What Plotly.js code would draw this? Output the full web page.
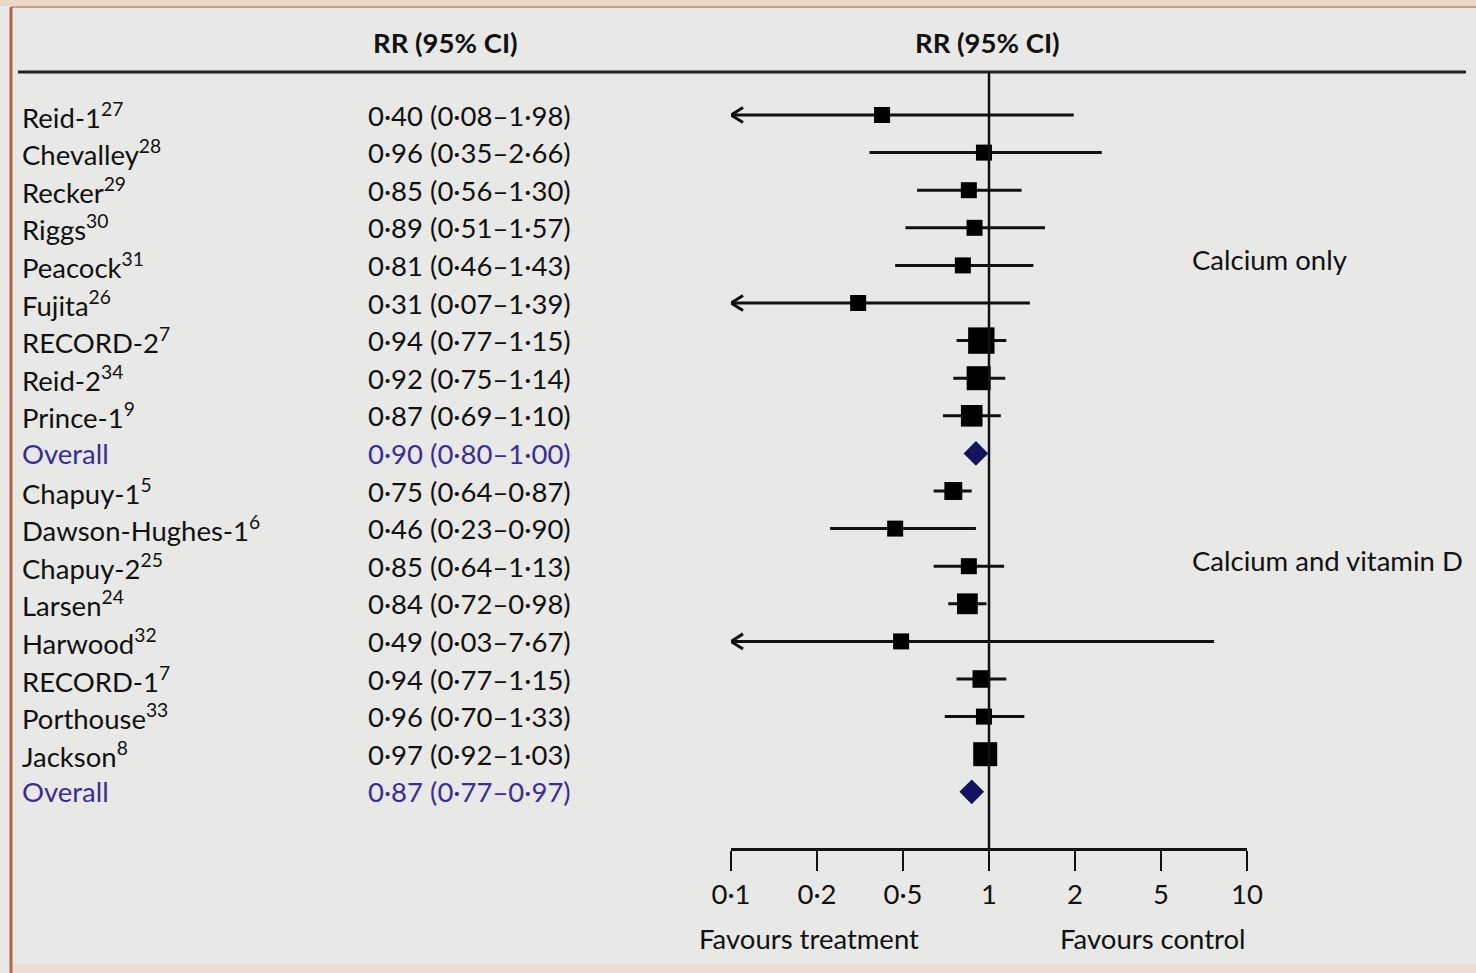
<!DOCTYPE html>
<html>
<head>
<meta charset="utf-8">
<script src="https://cdn.plot.ly/plotly-3.0.1.min.js"></script>
<style>
html,body{margin:0;padding:0;background:#e8e8e6;}
#chart{width:1476px;height:973px;}
</style>
</head>
<body>
<div id="chart"></div>
<script>
// ---- data ----
const studies = ["Reid-1","Chevalley","Recker","Riggs","Peacock","Fujita","RECORD-2","Reid-2","Prince-1","Overall",
                 "Chapuy-1","Dawson-Hughes-1","Chapuy-2","Larsen","Harwood","RECORD-1","Porthouse","Jackson","Overall"];
const refs = ["27","28","29","30","31","26","7","34","9","","5","6","25","24","32","7","33","8",""];
const rr = [0.40,0.96,0.85,0.89,0.81,0.31,0.94,0.92,0.87,0.90,0.75,0.46,0.85,0.84,0.49,0.94,0.96,0.97,0.87];
const lo = [0.08,0.35,0.56,0.51,0.46,0.07,0.77,0.75,0.69,0.80,0.64,0.23,0.64,0.72,0.03,0.77,0.70,0.92,0.77];
const hi = [1.98,2.66,1.30,1.57,1.43,1.39,1.15,1.14,1.10,1.00,0.87,0.90,1.13,0.98,7.67,1.15,1.33,1.03,0.97];
const isOverall = [0,0,0,0,0,0,0,0,0,1,0,0,0,0,0,0,0,0,1];
const weight = [1,1,1,1,1,1,1.65,1.5,1.35,0,1.12,1,1,1.3,1,1.1,1,1.5,0];
const tickValues = [0.1,0.2,0.5,1,2,5,10];
const tickLabels = ["0·1","0·2","0·5","1","2","5","10"];
const groups = ["Calcium only","Calcium and vitamin D"];
const groupRows = [4,12];

// ---- scale: equally spaced ticks, log within each segment ----
function pos(v){
  if (v <= tickValues[0]) return 0;
  for (let i=0;i<tickValues.length-1;i++){
    if (v <= tickValues[i+1]) return i + Math.log(v/tickValues[i])/Math.log(tickValues[i+1]/tickValues[i]);
  }
  return tickValues.length-1;
}
const fmt = v => v.toFixed(2).replace('.', '·');

// pixel geometry of plot area
const L = 731, R = 1247, T = 72, B = 848, W = 1476, H = 973;
const px = x => (x - L) / (R - L);
const py = y => (B - y) / (B - T);

const FONT = "Lato, 'Open Sans', sans-serif";
const FS = 27.5;
const BLACK = "#111111";
const BLUE = "#3a2e96";

const traces = [];
// whiskers
const wx=[], wy=[];
const ax=[], ay=[];
const dx = 0.14, dy = 0.2;
studies.forEach((s,i)=>{
  if (isOverall[i]) return;
  wx.push(pos(lo[i]), pos(hi[i]), null); wy.push(i,i,null);
  if (lo[i] < tickValues[0]) {
    ax.push(dx, 0, dx, null); ay.push(i-dy, i, i+dy, null);
  }
});
traces.push({type:'scatter',mode:'lines',x:wx,y:wy,line:{color:BLACK,width:3},hoverinfo:'skip',cliponaxis:false});
traces.push({type:'scatter',mode:'lines',x:ax,y:ay,line:{color:BLACK,width:3},hoverinfo:'skip',cliponaxis:false});
// squares
const sx=[], sy=[], ss=[];
studies.forEach((s,i)=>{ if(!isOverall[i]){ sx.push(pos(rr[i])); sy.push(i); ss.push(16*weight[i]); }});
traces.push({type:'scatter',mode:'markers',x:sx,y:sy,marker:{symbol:'square',size:ss,color:'#000000',opacity:1,line:{width:0}},hoverinfo:'skip',cliponaxis:false});
// diamonds
const dxs=[], dys=[];
studies.forEach((s,i)=>{ if(isOverall[i]){ dxs.push(pos(rr[i])); dys.push(i); }});
traces.push({type:'scatter',mode:'markers',x:dxs,y:dys,marker:{symbol:'diamond',size:19,color:'#14145e',opacity:1,line:{width:0}},hoverinfo:'skip'});

const annotations = [];
studies.forEach((s,i)=>{
  const col = isOverall[i] ? BLUE : BLACK;
  annotations.push({xref:'paper',yref:'y',x:px(20),y:i,xanchor:'left',yanchor:'middle',showarrow:false,
    text: s + (refs[i] ? '<sup>'+refs[i]+'</sup>' : ''), font:{family:FONT,size:FS,color:col}});
  annotations.push({xref:'paper',yref:'y',x:px(366),y:i,xanchor:'left',yanchor:'middle',showarrow:false,
    text: fmt(rr[i])+' ('+fmt(lo[i])+'–'+fmt(hi[i])+')', font:{family:FONT,size:FS,color:col}});
});
// headers
annotations.push({xref:'paper',yref:'paper',x:px(445),y:py(43),xanchor:'center',yanchor:'middle',showarrow:false,
  text:'<b>RR (95% CI)</b>',font:{family:FONT,size:FS,color:BLACK}});
annotations.push({xref:'paper',yref:'paper',x:px(987),y:py(43),xanchor:'center',yanchor:'middle',showarrow:false,
  text:'<b>RR (95% CI)</b>',font:{family:FONT,size:FS,color:BLACK}});
// group labels
groups.forEach((g,k)=>{
  annotations.push({xref:'paper',yref:'y',x:px(1190),y:groupRows[k]-0.15,xanchor:'left',yanchor:'middle',showarrow:false,
    text:g,font:{family:FONT,size:FS,color:BLACK}});
});
// favours
annotations.push({xref:'paper',yref:'paper',x:px(809),y:py(938),xanchor:'center',yanchor:'middle',showarrow:false,
  text:'Favours treatment',font:{family:FONT,size:FS,color:BLACK}});
annotations.push({xref:'paper',yref:'paper',x:px(1153),y:py(938),xanchor:'center',yanchor:'middle',showarrow:false,
  text:'Favours control',font:{family:FONT,size:FS,color:BLACK}});

const shapes = [
  // top tan strip & border lines
  {type:'rect',xref:'paper',yref:'paper',x0:px(0),x1:px(W),y0:py(6),y1:py(-2),fillcolor:'#ead8c6',line:{width:0},layer:'below'},
  {type:'line',xref:'paper',yref:'paper',x0:px(11),x1:px(W),y0:py(7),y1:py(7),line:{color:'#d49a8c',width:2}},
  {type:'line',xref:'paper',yref:'paper',x0:px(11),x1:px(11),y0:py(7),y1:py(H+2),line:{color:'#b9604a',width:3}},
  {type:'rect',xref:'paper',yref:'paper',x0:px(13),x1:px(W),y0:py(H+2),y1:py(964),fillcolor:'#ecdcd4',line:{width:0},layer:'below'},
  // header rule
  {type:'line',xref:'paper',yref:'paper',x0:px(18),x1:px(1466),y0:1,y1:1,line:{color:'#222',width:3}},
  // line of no effect
  {type:'line',xref:'x',yref:'paper',x0:pos(1),x1:pos(1),y0:0,y1:1,line:{color:BLACK,width:2.5}}
];

const layout = {
  width:W,height:H,
  paper_bgcolor:'#e8e8e6',plot_bgcolor:'rgba(0,0,0,0)',
  margin:{l:L,r:W-R,t:T,b:H-B,pad:0},
  showlegend:false,
  xaxis:{range:[0,tickValues.length-1],tickvals:tickValues.map(pos),ticktext:tickLabels,
    showgrid:false,zeroline:false,showline:true,linecolor:BLACK,linewidth:2.5,
    ticks:'outside',ticklen:20,tickwidth:2.5,tickcolor:BLACK,
    tickfont:{family:FONT,size:FS,color:BLACK},fixedrange:true},
  yaxis:{range:[(B-115)/37.6,(T-115)/37.6],showgrid:false,zeroline:false,showline:false,showticklabels:false,ticks:'',fixedrange:true},
  annotations:annotations,
  shapes:shapes,
  font:{family:FONT}
};
Plotly.newPlot('chart',traces,layout,{displayModeBar:false,staticPlot:true});
</script>
</body>
</html>
